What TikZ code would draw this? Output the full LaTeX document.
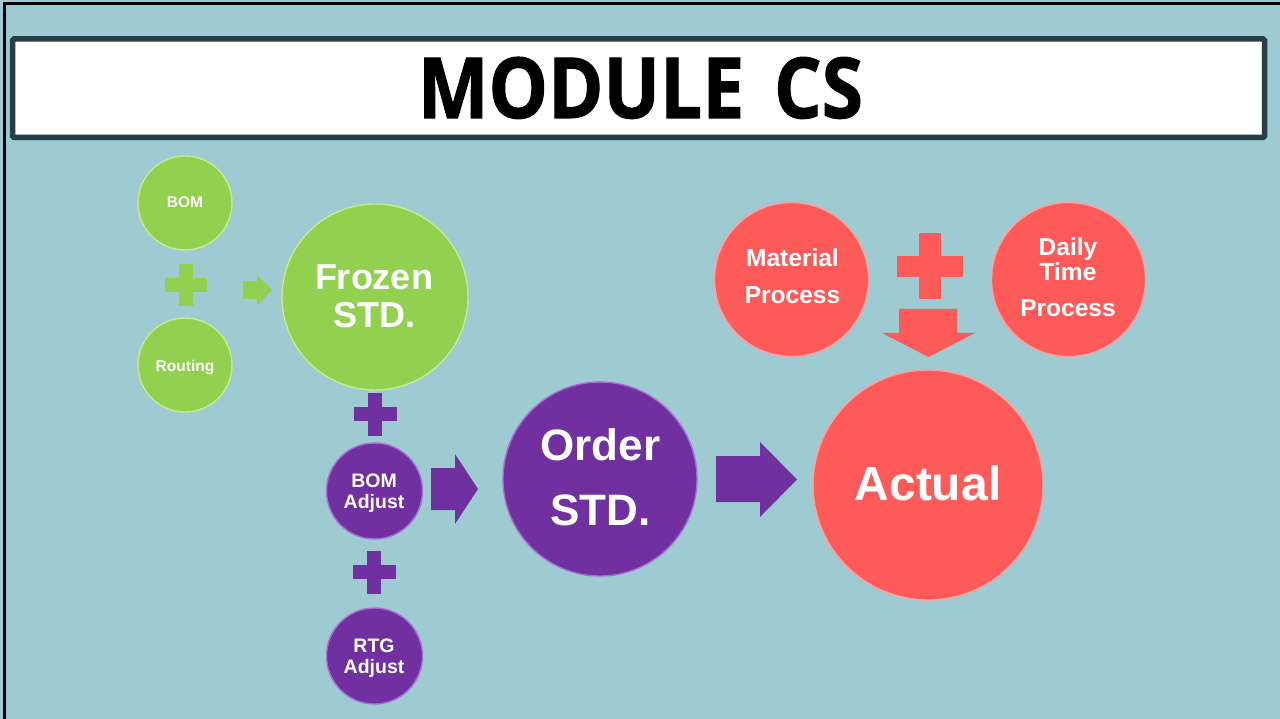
\documentclass[tikz,border=0pt]{standalone}
\usepackage{fontspec}
\setmainfont{Liberation Sans}
\newfontfamily\titlefont{Open Sans}[BoldFeatures={FakeBold=1.3}]
\usetikzlibrary{calc}
\definecolor{bgblue}{RGB}{158,202,209}
\definecolor{cgreen}{RGB}{146,208,80}
\definecolor{cgreenrim}{RGB}{196,236,140}
\definecolor{cpurple}{RGB}{112,48,160}
\definecolor{cpurplerim}{RGB}{165,110,210}
\definecolor{cred}{RGB}{255,90,90}
\definecolor{credrim}{RGB}{255,160,160}
\definecolor{titleborder}{RGB}{38,62,70}
\newcommand\drawplussign[5]{%
  \fill[#5] (#1-#3/2, #2-#4/2) rectangle (#1+#3/2, #2+#4/2);
  \fill[#5] (#1-#4/2, #2-#3/2) rectangle (#1+#4/2, #2+#3/2);
}
\tikzset{
  circ/.style={circle, inner sep=0pt, line width=1.4pt},
  gcirc/.style={circ, fill=cgreen, draw=cgreenrim},
  pcirc/.style={circ, fill=cpurple, draw=cpurplerim},
  rcirc/.style={circ, fill=cred, draw=credrim},
  lbl/.style={text=white, inner sep=0pt, anchor=base, font=\bfseries\fontsize{#1}{#1}\selectfont},
}
\begin{document}
\begin{tikzpicture}[x=1pt,y=-1pt]
\useasboundingbox (0,0) rectangle (1280,719);
\fill[bgblue] (0,0) rectangle (1280,719);
\draw[line width=2.5pt, black] (4.6,719) -- (4.6,3.6) -- (1280,3.6);

% title
\node[draw=titleborder, line width=5.5pt, fill=white, rounded corners=1.5pt,
      minimum width=1252pt, minimum height=98.5pt, inner sep=0pt] (titlebox) at (638.5,88.25) {};
\node[inner sep=0pt, anchor=base] (title) at (640.5,118)
  {\resizebox{445pt}{61pt}{\titlefont\bfseries MODULE\hspace{0.4em}CS}};

% green group
\node[gcirc, minimum size=94pt] (bom) at (185,203) {};
\node[lbl=15.5] (bomt) at (185,208) {BOM};
\node[gcirc, minimum size=94pt] (routing) at (185,365) {};
\node[lbl=15.5] (routingt) at (185,371) {Routing};
\drawplussign{186}{285}{42}{14}{cgreen}
\fill[cgreen] (243,281) -- (257,281) -- (257,275) -- (272,290) -- (257,305) -- (257,299) -- (243,299) -- cycle;
\node[gcirc, minimum size=186pt] (frozen) at (375,297) {};
\node[lbl=36] (frozent1) at (374,290) {Frozen};
\node[lbl=36] (frozent2) at (374,327) {STD.};

% purple group
\drawplussign{375}{414}{43}{14}{cpurple}
\node[pcirc, minimum size=96pt] (bomadj) at (374.5,491) {};
\node[lbl=19.5] (bomadjt1) at (374,487) {BOM};
\node[lbl=19.5] (bomadjt2) at (374,508) {Adjust};
\drawplussign{374}{572}{43}{14}{cpurple}
\node[pcirc, minimum size=96pt] (rtgadj) at (374.5,656) {};
\node[lbl=19.5] (rtgadjt1) at (374,652) {RTG};
\node[lbl=19.5] (rtgadjt2) at (374,673) {Adjust};
\fill[cpurple] (431,468) -- (455,468) -- (455,454) -- (478,489) -- (455,524) -- (455,510) -- (431,510) -- cycle;
\node[pcirc, minimum size=194pt] (order) at (600,479) {};
\node[lbl=44] (ordert1) at (600.5,460) {Order};
\node[lbl=44] (ordert2) at (600.5,525) {STD.};
\fill[cpurple] (716,456) -- (760,456) -- (760,442) -- (797,479.5) -- (760,517) -- (760,502) -- (716,502) -- cycle;

% red group
\node[rcirc, minimum size=154pt] (material) at (791.5,279.5) {};
\node[lbl=24.5] (materialt1) at (792.5,267) {Material};
\node[lbl=24.5] (materialt2) at (792.5,304) {Process};
\node[rcirc, minimum size=154pt] (daily) at (1068.5,279.5) {};
\node[lbl=24.5] (dailyt1) at (1068,255.5) {Daily};
\node[lbl=24.5] (dailyt2) at (1068,281) {Time};
\node[lbl=24.5] (dailyt3) at (1068,317) {Process};
\drawplussign{930}{266.5}{66}{21.5}{cred}
\fill[cred] (899,309) -- (957,309) -- (957,333) -- (975,333) -- (928.5,357) -- (882,333) -- (899,333) -- cycle;
\node[rcirc, minimum size=230pt] (actual) at (928,485) {};
\node[lbl=48] (actualt) at (928,500) {Actual};
\end{tikzpicture}
\end{document}
